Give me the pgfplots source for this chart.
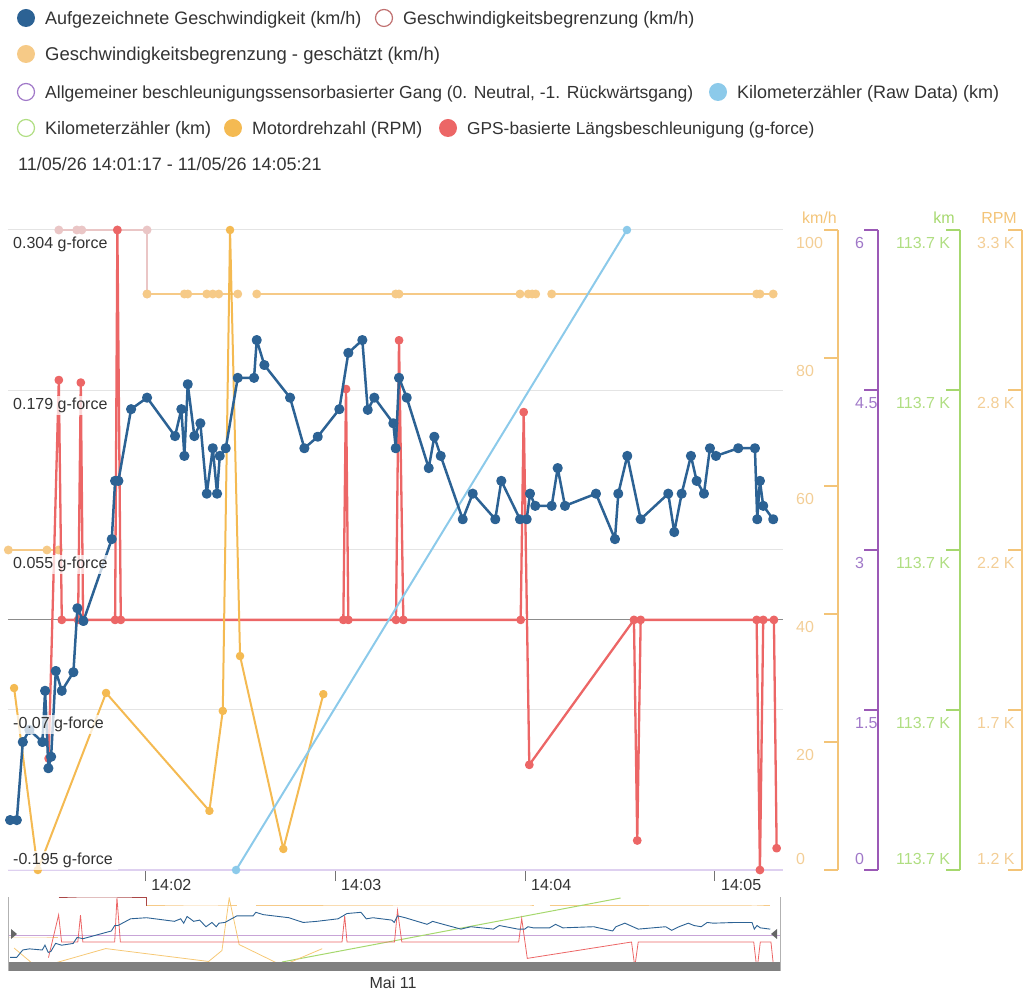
\documentclass[border=0pt]{standalone}
\usepackage{pgfplots}
\pgfplotsset{compat=1.18}
\usepackage{pgfplotstable}
\usepackage{fontspec}
\setmainfont{Liberation Sans}
\setsansfont{Liberation Sans}

\definecolor{cspeed}{RGB}{44,98,148}
\definecolor{cred}{RGB}{236,102,102}
\definecolor{cpink}{RGB}{234,198,198}
\definecolor{cpinkedge}{RGB}{192,112,112}
\definecolor{cpinknav}{RGB}{170,70,70}
\definecolor{clim}{RGB}{246,202,135}
\definecolor{crpm}{RGB}{244,186,82}
\definecolor{codo}{RGB}{140,202,234}
\definecolor{cgear}{RGB}{155,89,182}
\definecolor{cgearlab}{RGB}{160,120,200}
\definecolor{cgearline}{RGB}{222,208,240}
\definecolor{ckm}{RGB}{166,216,110}
\definecolor{ckmlab}{RGB}{176,222,130}
\definecolor{ckmh}{RGB}{243,196,120}
\definecolor{ckmhlab}{RGB}{243,206,150}
\definecolor{ctext}{RGB}{51,51,51}
\definecolor{cgrid}{RGB}{228,228,228}

\pgfplotstableread{
t v
77.37 7.8
79.48 7.8
81.38 20.0
83.46 21.9
87.57 20.0
88.42 28.0
89.46 15.9
90.32 17.7
91.80 31.1
93.69 28.0
97.36 30.9
98.62 40.9
100.52 38.9
109.48 51.7
110.53 60.8
111.57 60.8
115.58 72.0
120.63 73.8
129.47 67.8
131.46 72.0
132.41 64.7
133.48 75.9
135.57 67.8
137.46 69.8
139.48 58.8
141.38 65.9
142.74 58.8
143.59 64.7
145.48 65.9
149.27 76.9
154.42 76.9
155.27 82.8
157.67 78.9
165.79 73.8
170.31 65.9
174.54 67.7
181.36 72.0
184.20 80.8
188.62 82.8
190.33 71.9
192.41 73.8
198.41 69.8
199.17 65.9
200.21 76.9
202.64 73.8
209.59 62.8
211.36 67.7
213.38 64.7
220.33 54.8
223.49 58.8
230.62 54.8
232.52 60.8
238.42 54.8
240.54 54.8
241.58 58.8
243.25 56.9
248.43 56.9
250.33 62.8
252.63 56.9
262.42 58.8
268.42 51.7
269.47 58.8
272.31 64.7
276.54 54.8
285.25 58.8
287.15 52.8
289.49 58.8
292.42 64.7
294.22 60.8
296.53 58.8
298.42 65.9
300.32 64.7
307.36 65.9
312.63 65.9
313.36 54.8
314.21 60.8
315.25 56.9
318.41 54.8
}\speedtab

\pgfplotstableread{
t g
89.53 -0.108
92.75 0.187
93.69 0
98.84 0
99.69 0.185
100.42 0
110.53 0
111.25 0.304
112.33 0
182.62 0
183.47 0.180
184.20 0
199.26 0
200.21 0.218
201.57 0
238.64 0
239.59 0.162
241.36 -0.113
274.42 0
275.46 -0.172
276.54 0
313.17 0
314.21 -0.195
315.25 0
318.63 0
319.49 -0.178
}\gtab

\pgfplotstableread{
t r
78.63 1797
86.12 1200
107.68 1781
140.31 1394
144.54 1722
146.84 3300
150.00 1902
163.67 1269
176.31 1777
}\rpmtab

\pgfplotstableread{
t v
92.75 100
98.43 100
100.01 100
111.25 100
120.63 100
120.63 90
}\pinktab

\pgfplotstableread{
t v
76.80 50
89.00 50
92.62 50
92.70 nan
120.63 90
132.41 90
133.48 90
139.48 90
141.38 90
143.27 90
149.27 90
150.00 nan
155.27 90
199.17 90
200.21 90
238.42 90
241.04 90
242.30 90
243.38 90
245.00 nan
248.43 90
313.17 90
314.21 90
318.41 90
}\limtab

\pgfplotstableread{
t km
148.74 113701.0
272.21 113703.4
}\odotab

\pgfplotstableread{
t km
163.58 113701.0
270.95 113703.4
}\kmtab

\pgfplotstableread{
t gear
76.7 0
321.5 0
}\geartab

\newcommand{\tickfont}{\fontsize{16}{19}\selectfont}
\newcommand{\legfont}{\fontsize{18}{22}\selectfont}

\pgfplotsset{
  mainax/.style={scale only axis, width=775pt, height=640pt, at={(8pt,123pt)}, anchor=south west, xmin=76.7, xmax=321.5},
  hid/.style={mainax, axis lines=none, clip=false, unbounded coords=jump},
  rax/.style={scale only axis, width=10pt, height=640pt, anchor=south west, xmin=0, xmax=1,
     axis y line*=left, hide x axis, tick align=outside, major tick length=14pt,
     scaled y ticks=false,
     tick label style={font=\tickfont},
     yticklabel style={anchor=north west, inner sep=0pt, yshift=-7.3pt},
     extra y tick style={yticklabel style={anchor=south west, yshift=12.3pt}}},
}

\begin{document}
\begin{tikzpicture}[x=1pt,y=1pt]
\path[use as bounding box] (0,0) rectangle (1025,993);

% ---------- legend ----------
\begin{scope}[every node/.style={font=\legfont, text=ctext, inner sep=0pt}]
\node[circle, fill=cspeed, minimum size=18pt] at (26,975) {};
\node[anchor=base west] at (45,968.5) {Aufgezeichnete Geschwindigkeit (km/h)};
\node[circle, draw=cpinkedge, line width=1.2pt, fill=white, minimum size=17pt] at (384,975) {};
\node[anchor=base west] at (403,968.5) {Geschwindigkeitsbegrenzung (km/h)};
\node[circle, fill=clim, minimum size=18pt] at (26,939) {};
\node[anchor=base west, font=\fontsize{18.5}{22}\selectfont] at (45,932.5) {Geschwindigkeitsbegrenzung - geschätzt (km/h)};
\node[circle, draw=cgearlab, line width=1.2pt, fill=white, minimum size=17pt] at (26,901) {};
\node[anchor=base west, font=\fontsize{17.5}{22}\selectfont] at (45,894.5) {Allgemeiner beschleunigungssensorbasierter Gang (0. Neutral, -1. Rückwärtsgang)};
\node[circle, fill=codo, minimum size=18pt] at (718,901) {};
\node[anchor=base west] at (737,894.5) {Kilometerzähler (Raw Data) (km)};
\node[circle, draw=ckmlab, line width=1.2pt, fill=white, minimum size=17pt] at (26,865) {};
\node[anchor=base west] at (45,858.5) {Kilometerzähler (km)};
\node[circle, fill=crpm, minimum size=18pt] at (233,865) {};
\node[anchor=base west, font=\fontsize{17.8}{22}\selectfont] at (252,858.5) {Motordrehzahl (RPM)};
\node[circle, fill=cred, minimum size=18pt] at (448,865) {};
\node[anchor=base west, font=\fontsize{17.3}{22}\selectfont] at (467,858.5) {GPS-basierte Längsbeschleunigung (g-force)};
\node[anchor=base west] at (18,822.5) {11/05/26 14:01:17 - 11/05/26 14:05:21};
\end{scope}

% ---------- grid + time axis ----------
\begin{axis}[mainax, ymin=-0.195, ymax=0.304,
  axis line style={draw=none},
  ytick={-0.195,-0.07,0.055,0.179,0.304}, ymajorticks=false,
  ymajorgrids, grid style={cgrid, line width=1pt},
  xtick={120,180,240,300}, xticklabels={14:02,14:03,14:04,14:05},
  tick pos=left, tick align=outside, major tick length=11pt,
  xtick style={black!55, line width=0.9pt},
  xticklabel style={font=\tickfont, text=ctext, anchor=north west, inner sep=0pt, xshift=6pt, yshift=2pt}]
\addplot[black!45, line width=1pt] coordinates {(76.7,0) (321.5,0)};
\end{axis}

% ---------- series ----------
\begin{axis}[hid, ymin=0, ymax=6]
\addplot[cgearline, line width=2.2pt, no marks] table[x=t,y=gear] {\geartab};
\end{axis}

\begin{axis}[hid, ymin=0, ymax=100]
\addplot[cpink, line width=2pt, mark=*, mark size=3.4pt, mark options={fill=cpink, draw=cpink}] table[x=t,y=v] {\pinktab};
\addplot[clim, line width=2pt, mark=*, mark size=3.4pt, mark options={fill=clim, draw=clim}] table[x=t,y=v] {\limtab};
\end{axis}

\begin{axis}[hid, ymin=-0.195, ymax=0.304]
\addplot[cred, line width=2.3pt, line join=round, mark=*, mark size=3.2pt, mark options={fill=cred, draw=cred}] table[x=t,y=g] {\gtab};
\end{axis}

\begin{axis}[hid, ymin=1200, ymax=3300]
\addplot[crpm, line width=2pt, line join=round, mark=*, mark size=3.2pt, mark options={fill=crpm, draw=crpm}] table[x=t,y=r] {\rpmtab};
\end{axis}

\begin{axis}[hid, ymin=113701, ymax=113703.4]
\addplot[codo, line width=2pt, mark=*, mark size=3.2pt, mark options={fill=codo, draw=codo}] table[x=t,y=km] {\odotab};
\end{axis}

\begin{axis}[hid, ymin=0, ymax=100]
\addplot[cspeed, line width=2.5pt, line join=round, mark=*, mark size=3.8pt, mark options={fill=cspeed, draw=cspeed}] table[x=t,y=v] {\speedtab};
\end{axis}

% ---------- g-force labels on top ----------
\begin{axis}[mainax, ymin=-0.195, ymax=0.304, axis line style={draw=none},
  xtick=\empty, ytick={-0.07,0.055,0.179,0.304},
  yticklabels={-0.07 g-force,0.055 g-force,0.179 g-force,0.304 g-force},
  extra y ticks={-0.195}, extra y tick labels={-0.195 g-force},
  ytick style={draw=none}, major tick length=0pt,
  yticklabel style={font=\tickfont, text=ctext, anchor=north west, fill=white, fill opacity=0.75, text opacity=1, inner xsep=5pt, inner ysep=2pt, yshift=-5.1pt},
  extra y tick style={yticklabel style={anchor=south west, yshift=4.95pt}}]
\addplot[draw=none] coordinates {(100,0)};
\end{axis}

% ---------- right axes ----------
\begin{axis}[rax, at={(838pt,123pt)}, ymin=0, ymax=100,
  ytick={20,40,60,80,100}, yticklabels={20,40,60,80,100},
  extra y ticks={0}, extra y tick labels={0},
  y axis line style={-, ckmh, line width=1.3pt}, ytick style={ckmh, line width=1.3pt},
  yticklabel style={text=ckmhlab, xshift=-28pt}]
\addplot[draw=none] coordinates {(0,50)};
\end{axis}

\begin{axis}[rax, at={(878pt,123pt)}, ymin=0, ymax=6,
  ytick={1.5,3,4.5,6}, yticklabels={1.5,3,4.5,6},
  extra y ticks={0}, extra y tick labels={0},
  y axis line style={-, cgear, line width=1.3pt}, ytick style={cgear, line width=1.3pt},
  yticklabel style={text=cgearlab, xshift=-9pt}]
\addplot[draw=none] coordinates {(0,3)};
\end{axis}

\begin{axis}[rax, at={(960pt,123pt)}, ymin=113701, ymax=113703.4,
  ytick={113701.6,113702.2,113702.8,113703.4}, yticklabels={113.7 K,113.7 K,113.7 K,113.7 K},
  extra y ticks={113701}, extra y tick labels={113.7 K},
  y axis line style={-, ckm, line width=1.3pt}, ytick style={ckm, line width=1.3pt},
  yticklabel style={text=ckmlab, xshift=-50pt}]
\addplot[draw=none] coordinates {(0,113702)};
\end{axis}

\begin{axis}[rax, at={(1022pt,123pt)}, ymin=1200, ymax=3300,
  ytick={1725,2250,2775,3300}, yticklabels={1.7 K,2.2 K,2.8 K,3.3 K},
  extra y ticks={1200}, extra y tick labels={1.2 K},
  y axis line style={-, ckmh, line width=1.3pt}, ytick style={ckmh, line width=1.3pt},
  yticklabel style={text=ckmhlab, xshift=-31pt}]
\addplot[draw=none] coordinates {(0,2000)};
\end{axis}

\node[anchor=east, font=\tickfont, text=ckmh, inner sep=0pt] at (837,775) {km/h};
\node[anchor=east, font=\tickfont, text=ckm, inner sep=0pt] at (955,775) {km};
\node[anchor=east, font=\tickfont, text=ckmh, inner sep=0pt] at (1017,775) {RPM};

% ---------- navigator ----------
\fill[black!50] (8,22) rectangle (780,31);
\begin{axis}[scale only axis, width=772pt, height=64pt, at={(8pt,31pt)}, anchor=south west,
  xmin=76.7, xmax=321.5, ymin=0, ymax=1, axis lines=none, clip=true, unbounded coords=jump]
\addplot[cgear!55, line width=1pt] table[x=t, y expr=0.42+\thisrow{gear}] {\geartab};
\addplot[cpinknav, line width=1pt] table[x=t, y expr=(64-(100-\thisrow{v})*0.8)/64] {\pinktab};
\addplot[clim, line width=1pt] table[x=t, y expr=(64-(100-\thisrow{v})*0.8)/64] {\limtab};
\addplot[ckm, line width=1pt] table[x=t, y expr=(\thisrow{km}-113701)/2.4] {\kmtab};
\addplot[crpm!80, line width=0.8pt] table[x=t, y expr=(64-(3300-\thisrow{r})*0.0333)/64] {\rpmtab};
\addplot[cred, line width=0.8pt] table[x=t, y expr=(20+145*\thisrow{g})/64] {\gtab};
\addplot[cspeed, line width=0.9pt] table[x=t, y expr=\thisrow{v}*0.009375] {\speedtab};
\end{axis}
\draw[black!30, line width=0.8pt] (8,22) -- (8,96);
\draw[black!30, line width=0.8pt] (780,22) -- (780,96);
\fill[black!60] (11,54) -- (11,64) -- (17,59) -- cycle;
\fill[black!60] (777,54) -- (777,64) -- (771,59) -- cycle;
\node[font=\tickfont, text=ctext, inner sep=0pt] at (393,10) {Mai 11};
\end{tikzpicture}
\end{document}
